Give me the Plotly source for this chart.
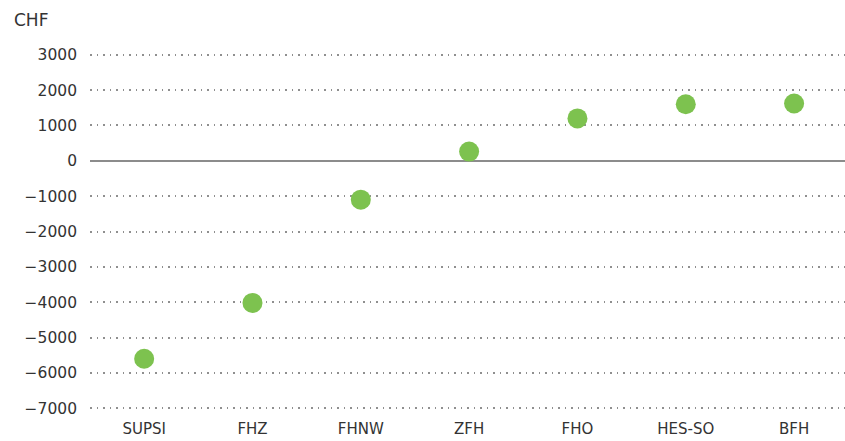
import plotly.graph_objects as go

categories = ["SUPSI", "FHZ", "FHNW", "ZFH", "FHO", "HES-SO", "BFH"]
values = [-5600, -4020, -1100, 260, 1200, 1600, 1620]
y_ticks = [3000, 2000, 1000, 0, -1000, -2000, -3000, -4000, -5000, -6000, -7000]

fig = go.Figure()
fig.add_trace(go.Scatter(
    x=categories, y=values, mode="markers",
    marker=dict(size=20, color="#7dc24f", line=dict(width=0)),
    showlegend=False,
))

fig.update_layout(
    width=845, height=441,
    margin=dict(l=90, r=0, t=53, b=31, autoexpand=False),
    plot_bgcolor="white", paper_bgcolor="white",
    font=dict(family="DejaVu Sans", size=15, color="#333333"),
    xaxis=dict(
        type="category", range=[-0.5, 6.47], showgrid=False, zeroline=False,
        showline=False, ticks="", tickfont=dict(size=15), automargin=False,
        ticklabelstandoff=8,
    ),
    yaxis=dict(
        range=[-7050, 3050], tickvals=y_ticks, showgrid=True,
        gridcolor="#8f8f8f", griddash="1.5px,5px", gridwidth=1.5,
        zeroline=True, zerolinecolor="#8c8c8c", zerolinewidth=2,
        showline=False, ticks="", ticklabelstandoff=12, automargin=False,
        tickfont=dict(size=15.5),
    ),
    annotations=[dict(
        text="CHF", xref="paper", yref="paper", x=0, y=1.0,
        xanchor="left", yanchor="middle", xshift=-78, yshift=33, showarrow=False,
        font=dict(size=17, color="#333333"),
    )],
)

fig.write_html(
    "out.html",
    config={"displayModeBar": False},
    post_script="document.body.style.margin='0';document.body.style.overflow='hidden';",
)
